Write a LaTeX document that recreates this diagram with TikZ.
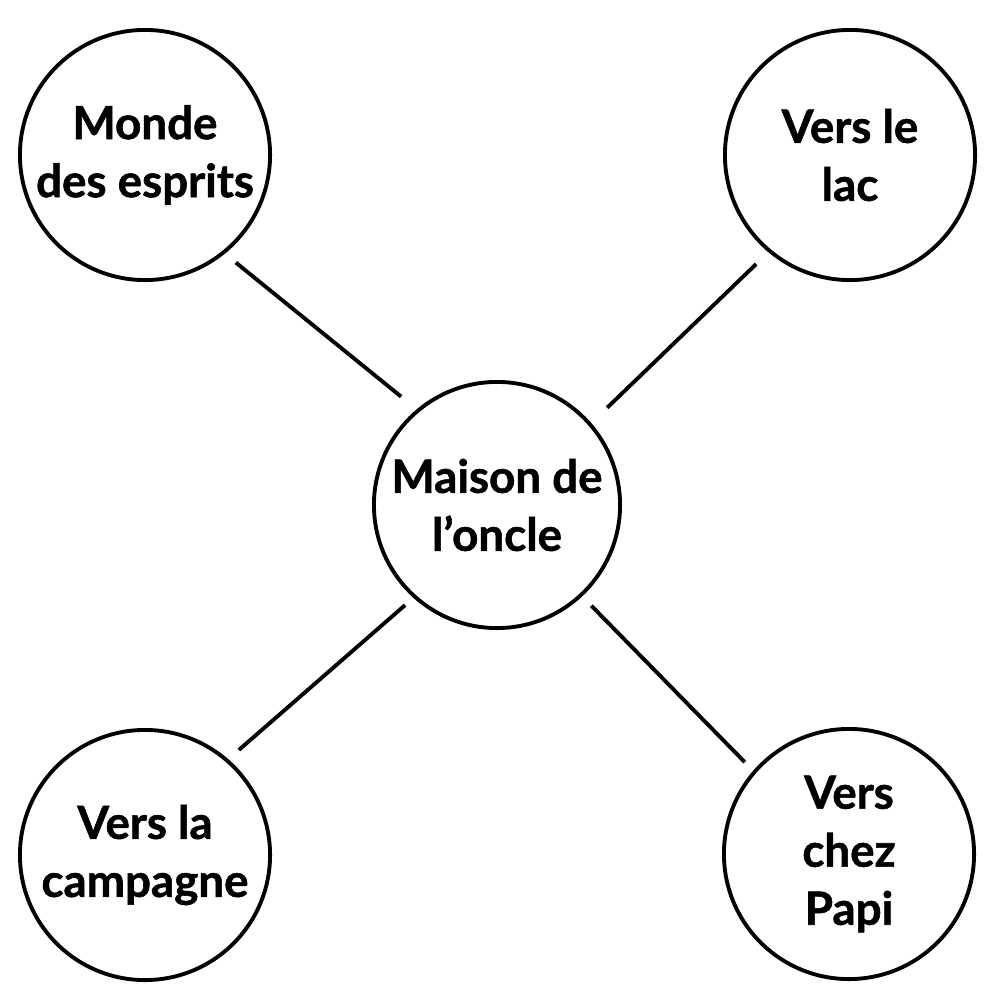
\documentclass[tikz,border=0pt]{standalone}
\usepackage{fontspec}
\setmainfont{Lato}[BoldFeatures={FakeBold=1.2}]
\tikzset{
  place/.style={draw, circle, line width=1.1pt, minimum size=2.5cm, inner sep=0pt, align=center,
    font=\bfseries\fontsize{13}{16.5}\selectfont},
  link/.style={line width=1.1pt}
}
\begin{document}
\begin{tikzpicture}[x=0.01cm,y=-0.01cm]
\useasboundingbox (0,0) rectangle (1000,1000);
\node[place] (tl) at (145,155) {Monde\\des esprits};
\node[place] (tr) at (850,155) {Vers le\\lac};
\node[place, minimum size=2.46cm] (c) at (497,505) {Maison de\\l'oncle};
\node[place] (bl) at (145,855) {Vers la\\campagne};
\node[place] (br) at (849,854) {Vers\\chez\\Papi};
\draw[link, shorten <=0.14cm, shorten >=0.2cm] (tl.-51) -- (c.130);
\draw[link, shorten <=0.17cm, shorten >=0.22cm] (tr.230) -- (c.41);
\draw[link, shorten <=0.11cm, shorten >=0.14cm] (c.228) -- (bl.49);
\draw[link, shorten <=0.13cm, shorten >=0.12cm] (c.-47) -- (br.139);
\end{tikzpicture}
\end{document}
